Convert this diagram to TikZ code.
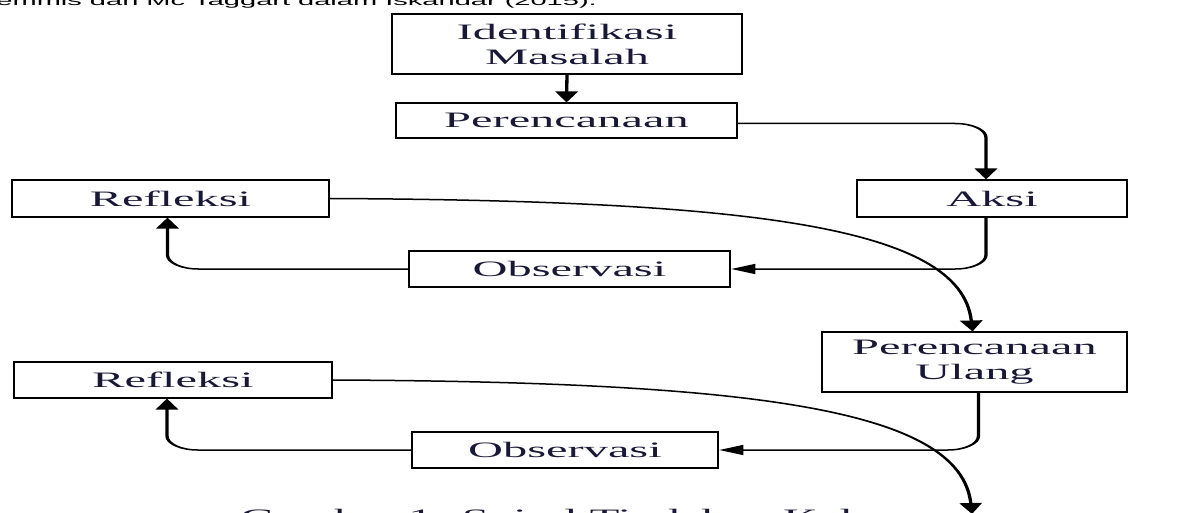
\documentclass[tikz,border=0pt]{standalone}
\usepackage{fontspec}
\setmainfont{Liberation Serif}
\setsansfont{Liberation Sans}
\usetikzlibrary{arrows.meta,calc}
\definecolor{ink}{RGB}{25,25,55}
\tikzset{
  box/.style={draw=black, line width=1.1pt, inner sep=0pt, align=center, text=ink,
    font=\fontsize{22}{25}\selectfont},
  conn/.style={draw=black, line width=1.5pt, rounded corners=14pt,
    -{Triangle[length=11pt,width=10pt]}},
  freetext/.style={anchor=base west, inner sep=0pt}
}
\begin{document}
\begin{tikzpicture}[x=1pt,y=-1pt]
\useasboundingbox (0,0) rectangle (1180,513);
\fill[white] (0,0) rectangle (1180,513);
\clip (0,0) rectangle (1180,513);
\begin{scope}[transform canvas={xscale=2.2}, x=0.454545pt, y=-1pt]
  % cropped line of the page above the figure
  \node[freetext, text=black, font=\fontsize{13.2}{14}\selectfont\sffamily] (toptext) at (-4,6)
    {emmis dan Mc Taggart dalam Iskandar (2015).};
  % cropped caption
  \node[freetext, text=ink, font=\fontsize{22}{22}\selectfont] (caption) at (240,524)
    {Gambar 1: Spiral Tindakan Kelas};
  % boxes
  \node[box, minimum width=159.1pt, minimum height=60pt] (idm)  at (567,44)    {Identifikasi\\Masalah};
  \node[box, minimum width=155pt,   minimum height=35pt] (per)  at (566.5,120.5) {Perencanaan};
  \node[box, minimum width=122.7pt, minimum height=37pt] (aksi) at (992,198.5) {Aksi};
  \node[box, minimum width=144.1pt, minimum height=37pt] (ref1) at (170.5,198.5) {Refleksi};
  \node[box, minimum width=145.9pt, minimum height=36pt] (obs1) at (569.5,269) {Observasi};
  \node[box, minimum width=138.6pt, minimum height=60pt] (peru) at (974.5,362) {Perencanaan\\Ulang};
  \node[box, minimum width=144.5pt, minimum height=36pt] (ref2) at (173,380)   {Refleksi};
  \node[box, minimum width=139.1pt, minimum height=36pt] (obs2) at (565,450)   {Observasi};
  \coordinate (end2) at (972,514);
  % connectors
  \draw[conn] (idm.south) -- (per.north);
  \draw[conn] ($(per.east)+(0,3)$) -| ($(aksi.north)+(-6,0)$);
  \draw[conn] ($(aksi.south)+(-6,0)$) |- (obs1.east);
  \draw[conn] (obs1.west) -| ($(ref1.south)+(-3,0)$);
  \draw[conn, rounded corners=0pt] (ref1.east) .. controls +(420,2) and +(-12,-105) .. ($(peru.north)+(-2,0)$);
  \draw[conn] ($(peru.south)+(4,0)$) |- (obs2.east);
  \draw[conn] (obs2.west) -| ($(ref2.south)+(-6,0)$);
  \draw[conn, rounded corners=0pt] (ref2.east) .. controls +(420,2) and +(-12,-105) .. (end2);
\end{scope}
\end{tikzpicture}
\end{document}
